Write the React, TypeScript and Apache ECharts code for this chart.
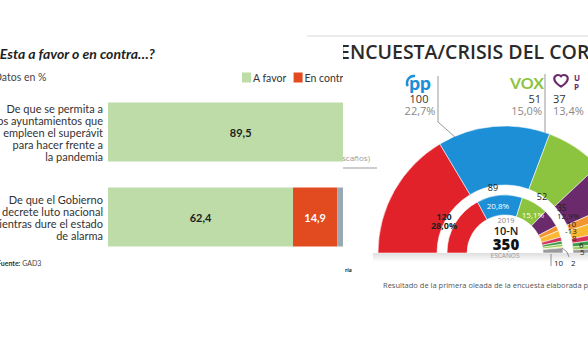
import React, { useEffect, useRef } from "react";
import * as echarts from "echarts";

// ---- Left chart data ----
const questions = [
  "De que se permita a\nlos ayuntamientos que\nempleen el superávit\npara hacer frente a\nla pandemia",
  "De que el Gobierno\ndecrete luto nacional\nmientras dure el estado\nde alarma",
];
const legendNames = ["A favor", "En contra", "NS/NC"];
const favor = [89.5, 62.4];
const contra = [6.1, 14.9];
const nsnc = [4.4, 22.7];

// ---- Right chart data ----
const outerParties = ["PSOE", "PP", "Vox", "UP", "Cs", "ERC", "JxCat", "PNV", "Bildu", "Otros"];
const outerSeats = [115, 100, 51, 37, 10, 14, 7, 6, 5, 5];
const outerPct = ["", "22,7%", "15,0%", "13,4%"];
const innerParties = ["PSOE", "PP", "Vox", "UP", "Cs", "ERC", "JxCat", "PNV", "Bildu", "CUP", "Otros"];
const innerSeats = [120, 89, 52, 35, 10, 13, 8, 6, 5, 2, 10];
const innerPct = ["28,0%", "20,8%", "15,1%", "12,9%"];

const partyColor: Record<string, string> = {
  PSOE: "#e2222a",
  PP: "#1c8fd6",
  Vox: "#8cc43f",
  UP: "#6a2a6c",
  Cs: "#f39433",
  ERC: "#fbb933",
  JxCat: "#d6315c",
  PNV: "#3f9a47",
  Bildu: "#9ccc5a",
  CUP: "#f4e04d",
  Otros: "#9b9b9b",
};

const F = "Lato, 'Open Sans', sans-serif";
const F2 = "'Open Sans', sans-serif";

const fmt = (p: any) => String(p.value).replace(".", ",");

echarts.graphic.registerShape(
  "heart",
  echarts.graphic.extendPath(
    "M12 21 C12 21 3 14.5 3 8.5 C3 5.4 5.4 3 8.3 3 C10 3 11.3 4 12 5 C12.7 4 14 3 15.7 3 C18.6 3 21 5.4 21 8.5 C21 14.5 12 21 12 21 Z",
    {}
  )
);

export default function App() {
  const leftRef = useRef<HTMLDivElement>(null);
  const rightRef = useRef<HTMLDivElement>(null);

  useEffect(() => {
    const left = echarts.init(leftRef.current!, undefined, { renderer: "svg" });
    const right = echarts.init(rightRef.current!, undefined, { renderer: "svg" });

    left.setOption({
      animation: false,
      grid: { left: 108, top: 89.5, width: 296.5, height: 170, outerBoundsMode: "none", containLabel: false },
      xAxis: { type: "value", min: 0, max: 100, show: false },
      yAxis: {
        type: "category",
        data: questions,
        inverse: true,
        axisLine: { show: false },
        axisTick: { show: false },
        splitLine: { show: false },
        axisLabel: {
          fontFamily: F,
          fontSize: 11,
          color: "#333",
          lineHeight: 12,
          align: "right",
          margin: 5,
        },
      },
      legend: {
        left: 242,
        top: 72,
        padding: 0,
        itemWidth: 9,
        itemHeight: 10,
        itemGap: 7,
        icon: "rect",
        data: legendNames,
        textStyle: { fontFamily: F, fontSize: 10.5, color: "#333", padding: [0, 0, 0, -3] },
      },
      series: [
        {
          type: "bar",
          name: legendNames[0],
          stack: "s",
          data: favor,
          barWidth: 59,
          itemStyle: { color: "#bddca7" },
          label: { show: true, position: "inside", formatter: fmt, fontFamily: F, fontWeight: "bold", fontSize: 11, color: "#222" },
        },
        {
          type: "bar",
          name: legendNames[1],
          stack: "s",
          data: contra,
          barWidth: 59,
          itemStyle: { color: "#e24a1f" },
          label: { show: true, position: "inside", formatter: fmt, fontFamily: F, fontWeight: "bold", fontSize: 11, color: "#fff" },
        },
        {
          type: "bar",
          name: legendNames[2],
          stack: "s",
          data: nsnc,
          barWidth: 59,
          itemStyle: { color: "#9aa8b4" },
          label: { show: true, position: "inside", formatter: fmt, fontFamily: F, fontWeight: "bold", fontSize: 11, color: "#fff" },
        },
      ],
      graphic: [
        { type: "line", shape: { x1: 307, y1: 36, x2: 343, y2: 36 }, style: { stroke: "#d8d8d8", lineWidth: 1 } },
        {
          type: "text",
          x: -6,
          y: 53,
          style: { text: "¿Esta a favor o en contra…?", font: `italic bold 14px ${F}`, fill: "#1e1e1e", textVerticalAlign: "middle" },
        },
        {
          type: "text",
          x: -6,
          y: 77,
          style: { text: "Datos en %", font: `10.5px ${F}`, fill: "#444", textVerticalAlign: "middle" },
        },
        {
          type: "text",
          x: -3,
          y: 263,
          style: {
            text: "{b|Fuente:} GAD3",
            rich: { b: { fontWeight: "bold", fontSize: 7, fontFamily: F, fill: "#333" } },
            font: `7px ${F}`,
            fill: "#444",
            textVerticalAlign: "middle",
          },
        },
      ],
    });

    const cx = 162;
    const cy = 253;
    const labelText = (x: number, y: number, text: string, opts: any = {}) => ({
      type: "text",
      x,
      y,
      z: 10,
      style: {
        text,
        font: `${opts.weight || "normal"} ${opts.size || 9}px ${opts.family || F2}`,
        fill: opts.fill || "#222",
        textAlign: opts.align || "center",
        textVerticalAlign: "middle",
        lineHeight: opts.lh,
      },
    });

    right.setOption({
      animation: false,
      series: [
        {
          type: "pie",
          name: "Encuesta",
          center: [cx, cy],
          radius: [68, 127],
          startAngle: 180,
          endAngle: 0,
          clockwise: true,
          label: { show: false },
          labelLine: { show: false },
          silent: true,
          z: 3,
          itemStyle: { borderColor: "rgba(255,255,255,0.55)", borderWidth: 1 },
          data: outerParties.map((p, i) => ({ name: p, value: outerSeats[i], itemStyle: { color: partyColor[p] } })),
        },
        {
          type: "pie",
          name: "10-N",
          center: [cx, cy],
          radius: [38, 58],
          startAngle: 180,
          endAngle: 0,
          clockwise: true,
          label: { show: false },
          labelLine: { show: false },
          silent: true,
          z: 3,
          itemStyle: { borderColor: "rgba(255,255,255,0.55)", borderWidth: 1 },
          data: innerParties.map((p, i) => ({ name: p, value: innerSeats[i], itemStyle: { color: partyColor[p] } })),
        },
      ],
      graphic: [
        {
          type: "rect",
          z: 1,
          shape: { x: 30, y: 253, width: 215, height: 9 },
          style: {
            fill: new echarts.graphic.LinearGradient(0, 0, 0, 1, [
              { offset: 0, color: "rgba(0,0,0,0.13)" },
              { offset: 1, color: "rgba(0,0,0,0)" },
            ]),
          },
        },
        { type: "line", shape: { x1: 0, y1: 36, x2: 245, y2: 36 }, style: { stroke: "#d8d8d8", lineWidth: 1 } },
        {
          type: "text",
          x: -4,
          y: 51,
          style: { text: "ENCUESTA/CRISIS DEL CORONAVIRUS", font: `600 19.5px ${F2}`, fill: "#2a2a2a", textVerticalAlign: "middle" },
        },
        labelText(27, 157, "(en escaños)", { size: 8, fill: "#999", align: "right" }),
        { type: "line", shape: { x1: 0, y1: 168, x2: 34, y2: 168 }, style: { stroke: "#9a9a9a", lineWidth: 1 } },
        labelText(2, 270, "ría", { size: 5, weight: "bold", align: "left" }),
        labelText(40, 285, "Resultado de la primera oleada de la encuesta elaborada por GAD3", {
          size: 7.5,
          fill: "#555",
          align: "left",
        }),
        // PP logo & label
        labelText(77, 82, "pp", { size: 19, weight: "900", fill: partyColor.PP, family: "Lato, sans-serif" }),
        {
          type: "arc",
          z: 10,
          shape: { cx: 71, cy: 83, r: 7, startAngle: Math.PI * 0.85, endAngle: Math.PI * 1.55 },
          style: { stroke: partyColor.PP, lineWidth: 2.5, fill: "none" },
        },
        labelText(76, 98, String(outerSeats[1]), { size: 11, fill: "#333" }),
        labelText(77, 110, outerPct[1], { size: 11, fill: "#888" }),
        { type: "polyline", z: 10, shape: { points: [[95, 76], [95, 122], [112, 137]] }, style: { stroke: "#999", lineWidth: 1, fill: "none" } },
        // VOX logo & label
        labelText(184, 82, "VOX", { size: 16, weight: "bold", fill: partyColor.Vox, family: "Lato, sans-serif" }),
        labelText(198, 98, String(outerSeats[2]), { size: 11, fill: "#333", align: "right" }),
        labelText(199, 110, outerPct[2], { size: 11, fill: "#888", align: "right" }),
        { type: "line", z: 10, shape: { x1: 202, y1: 74, x2: 202, y2: 133 }, style: { stroke: "#999", lineWidth: 1 } },
        // UP logo & label
        {
          type: "heart",
          z: 10,
          x: 209,
          y: 73,
          scaleX: 0.75,
          scaleY: 0.65,
          style: { stroke: partyColor.UP, lineWidth: 3, fill: "none" },
        },
        labelText(231, 77.5, "U", { size: 8, weight: "bold", fill: partyColor.UP, align: "left" }),
        labelText(231, 86.5, "P", { size: 8, weight: "bold", fill: partyColor.UP, align: "left" }),
        labelText(210, 98, String(outerSeats[3]), { size: 11, fill: "#333", align: "left" }),
        labelText(210, 110, outerPct[3], { size: 11, fill: "#888", align: "left" }),
        // inner ring labels
        labelText(101, 221, `${innerSeats[0]}\n${innerPct[0]}`, { size: 9, weight: "bold", lh: 9 }),
        labelText(150, 187, String(innerSeats[1]), { size: 9 }),
        labelText(155, 205, innerPct[1], { size: 8, fill: "#fff" }),
        labelText(199, 196, String(innerSeats[2]), { size: 9 }),
        labelText(190, 214, innerPct[2], { size: 8, fill: "#fff" }),
        labelText(214, 207, String(innerSeats[3]), { size: 8.5, align: "left" }),
        labelText(214, 215, innerPct[3], { size: 8, align: "left" }),
        labelText(224, 223, String(innerSeats[4]), { size: 8, align: "left" }),
        labelText(222, 230, "-" + innerSeats[5], { size: 8, align: "left" }),
        labelText(229, 237, String(innerSeats[6]), { size: 8, align: "left" }),
        labelText(236, 244, String(innerSeats[7]), { size: 8, align: "left" }),
        labelText(237, 251, String(innerSeats[8]), { size: 8, align: "left" }),
        labelText(228, 262, String(innerSeats[9]), { size: 8, align: "left" }),
        labelText(211, 262, String(innerSeats[10]), { size: 8, align: "left" }),
        { type: "line", z: 10, shape: { x1: 208, y1: 254, x2: 208, y2: 266 }, style: { stroke: "#777", lineWidth: 0.8 } },
        { type: "polyline", z: 10, shape: { points: [[219, 248], [224, 252], [226, 257]] }, style: { stroke: "#777", lineWidth: 0.8, fill: "none" } },
        // hole text
        labelText(cx + 1, 220, "2019", { size: 7.5, fill: "#888" }),
        labelText(cx + 1, 230, "10-N", { size: 11, weight: "600", fill: "#222" }),
        labelText(cx + 1, 244, "350", { size: 15, weight: "800", fill: "#111" }),
        labelText(cx, 255, "ESCAÑOS", { size: 6.5, fill: "#999" }),
      ],
    });

    return () => {
      left.dispose();
      right.dispose();
    };
  }, []);

  return (
    <div style={{ position: "absolute", left: 0, top: 0, width: 588, height: 353, background: "#fff", overflow: "hidden" }}>
      <div ref={leftRef} style={{ position: "absolute", left: 0, top: 0, width: 588, height: 353 }} />
      <div ref={rightRef} style={{ position: "absolute", left: 343, top: 0, width: 245, height: 353, background: "#fff" }} />
    </div>
  );
}
